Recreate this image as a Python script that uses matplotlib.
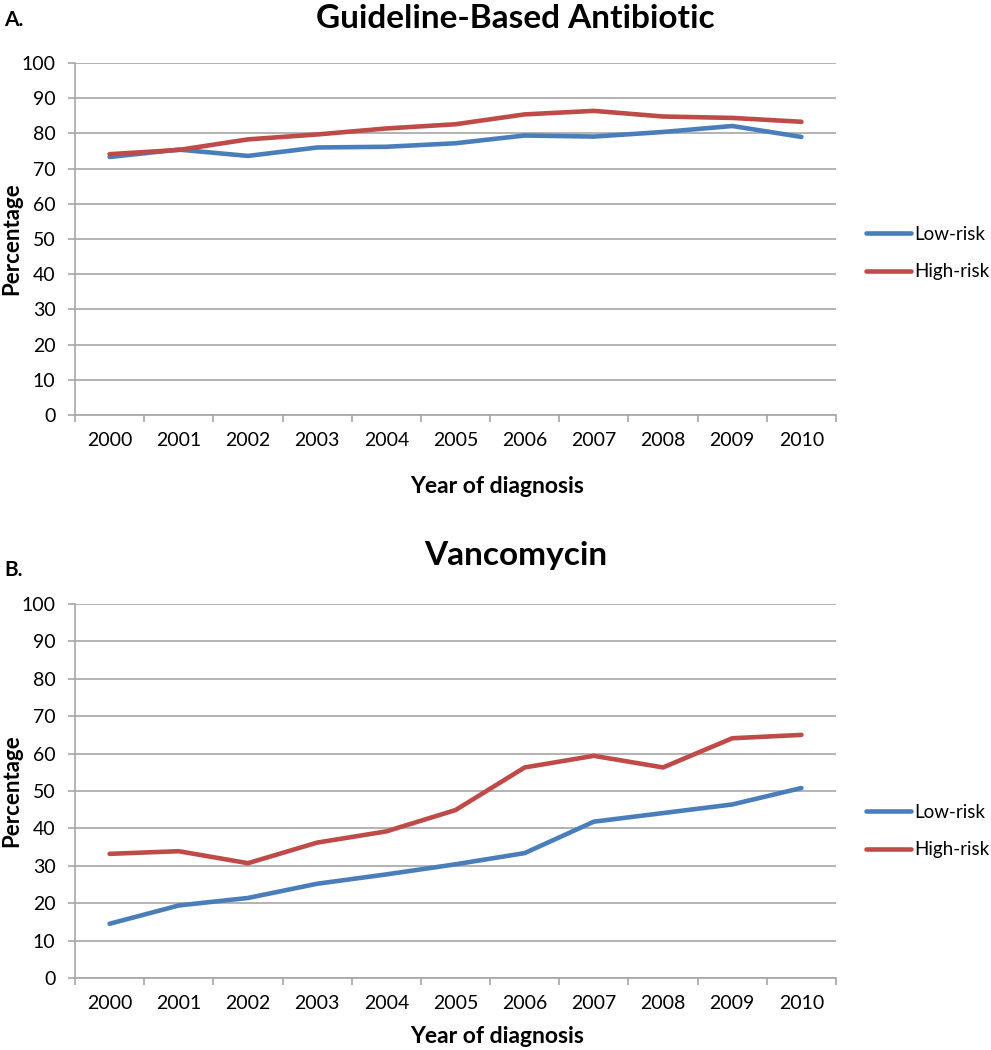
import numpy as np
import matplotlib
matplotlib.use("Agg")
import matplotlib.pyplot as plt

plt.rcParams['font.family'] = ['Lato', 'DejaVu Sans']

# Datos
years = ["2000", "2001", "2002", "2003", "2004", "2005", "2006", "2007", "2008", "2009", "2010"]

guideline_low = [73.3, 75.4, 73.6, 76.0, 76.2, 77.2, 79.4, 79.1, 80.4, 82.1, 79.0]
guideline_high = [74.1, 75.3, 78.3, 79.7, 81.4, 82.6, 85.4, 86.4, 84.8, 84.4, 83.3]

vanco_low = [14.5, 19.4, 21.4, 25.2, 27.7, 30.4, 33.4, 41.8, 44.1, 46.4, 50.8]
vanco_high = [33.2, 33.9, 30.7, 36.2, 39.2, 44.9, 56.3, 59.4, 56.3, 64.1, 65.0]

blue = "#4a7ebb"
red = "#be4b48"
grid_gray = "#a6a6a6"

fig = plt.figure(figsize=(9.91, 10.5), dpi=100)
W, H = 991, 1050

def panel(top_px, bottom_px, low, high, title, letter, title_y, letter_y, legend_y, xlabel_top):
    ax = fig.add_axes([75 / W, 1 - bottom_px / H, (836 - 75) / W, (bottom_px - top_px) / H])
    x = np.arange(len(years))
    ax.plot(x, low, color=blue, lw=3.3, solid_capstyle='round', label="Low-risk")
    ax.plot(x, high, color=red, lw=3.3, solid_capstyle='round', label="High-risk")
    ax.set_xlim(-0.5, len(years) - 0.5)
    ax.set_ylim(0, 100)
    ax.set_yticks(np.arange(0, 101, 10))
    ax.yaxis.grid(True, color=grid_gray, lw=1.2)
    ax.set_axisbelow(True)
    # ticks entre categorias, etiquetas centradas (estilo Excel)
    ax.set_xticks(np.arange(-0.5, len(years), 1.0))
    ax.set_xticklabels([])
    ax.set_xticks(x, minor=True)
    ax.set_xticklabels(years, minor=True, fontsize=14)
    ax.tick_params(axis='x', which='minor', length=0, pad=12)
    ax.tick_params(axis='x', which='major', length=5, color=grid_gray, width=1.2)
    ax.tick_params(axis='y', length=5, color=grid_gray, width=1.2, labelsize=14, pad=9)
    for s in ["top", "right"]:
        ax.spines[s].set_visible(False)
    for s in ["left", "bottom"]:
        ax.spines[s].set_color(grid_gray)
        ax.spines[s].set_linewidth(1.2)
    ax.set_ylabel("Percentage", fontsize=16, fontweight='bold')
    ax.yaxis.set_label_coords(-0.069, 0.5)
    ax.set_xlabel("Year of diagnosis", fontsize=16.5, fontweight='bold')
    ax.xaxis.set_label_coords(0.555, -(xlabel_top - bottom_px) / (bottom_px - top_px))
    fig.text(0.52, 1 - title_y / H, title, fontsize=24, fontweight='bold', ha='center', va='center')
    fig.text(4 / W, 1 - letter_y / H, letter, fontsize=15, fontweight='bold', ha='left', va='center')
    ax.legend(loc='center left', bbox_to_anchor=(866 / W, 1 - legend_y / H),
              bbox_transform=fig.transFigure, frameon=False, fontsize=13.5,
              handlelength=2.4, handletextpad=0.2, labelspacing=1.1, borderpad=0, borderaxespad=0)
    return ax

axA = panel(63, 415, guideline_low, guideline_high, "Guideline-Based Antibiotic", "A.", 18, 20, 253, 476)
axB = panel(604, 978, vanco_low, vanco_high, "Vancomycin", "B.", 555, 570, 831, 1026)

fig.savefig("out.png", dpi=100)
